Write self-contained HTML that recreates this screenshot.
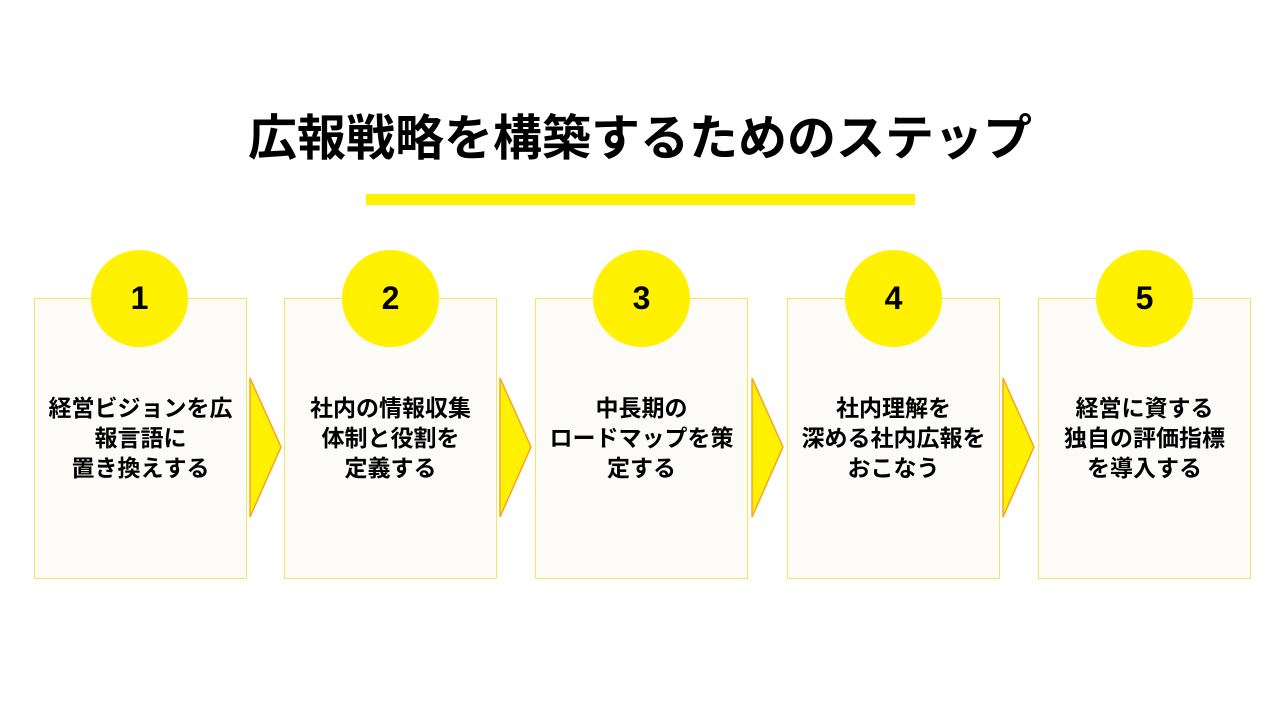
<!DOCTYPE html>
<html><head><meta charset="utf-8"><style>
body{margin:0;width:1280px;height:720px;background:#fff;position:relative;overflow:hidden;font-family:"Liberation Sans","Noto Sans CJK JP",sans-serif}
.t{position:absolute;left:0;width:1280px;top:107px;text-align:center;font-size:49px;font-weight:bold;color:#000;line-height:64px}
.bar{position:absolute;left:366px;top:194px;width:549px;height:11px;background:#fff100}
.box{position:absolute;top:298px;width:211px;height:279px;border:1px solid #f3e560;background:#fdfbf8}
.c{position:absolute;width:97px;height:97px;border-radius:50%;background:#fff100;top:250px;text-align:center;line-height:97px;font-size:32px;font-weight:bold}
.tx{position:absolute;top:393px;width:211px;text-align:center;font-size:23px;font-weight:bold;line-height:30px;white-space:nowrap}
svg{position:absolute;top:377px}
</style></head><body>
<div class="t">広報戦略を構築するためのステップ</div>
<div class="bar"></div>

<div class="box" style="left:34px"></div>
<div class="box" style="left:284px"></div>
<div class="box" style="left:535px"></div>
<div class="box" style="left:787px"></div>
<div class="box" style="left:1038px"></div>

<div class="c" style="left:91px">1</div>
<div class="c" style="left:342px">2</div>
<div class="c" style="left:593px">3</div>
<div class="c" style="left:845px">4</div>
<div class="c" style="left:1096px">5</div>

<div class="tx" style="left:35px">経営ビジョンを広<br>報言語に<br>置き換えする</div>
<div class="tx" style="left:285px">社内の情報収集<br>体制と役割を<br>定義する</div>
<div class="tx" style="left:536px">中長期の<br>ロードマップを策<br>定する</div>
<div class="tx" style="left:788px">社内理解を<br>深める社内広報を<br>おこなう</div>
<div class="tx" style="left:1039px">経営に資する<br>独自の評価指標<br>を導入する</div>

<svg style="left:249px" width="34" height="142"><polygon points="1,1 32,70 1,140" fill="#fff100" stroke="#f5a623" stroke-width="1.5"/></svg>
<svg style="left:499px" width="34" height="142"><polygon points="1,1 32,70 1,140" fill="#fff100" stroke="#f5a623" stroke-width="1.5"/></svg>
<svg style="left:751px" width="34" height="142"><polygon points="1,1 32,70 1,140" fill="#fff100" stroke="#f5a623" stroke-width="1.5"/></svg>
<svg style="left:1002px" width="34" height="142"><polygon points="1,1 32,70 1,140" fill="#fff100" stroke="#f5a623" stroke-width="1.5"/></svg>
</body></html>
